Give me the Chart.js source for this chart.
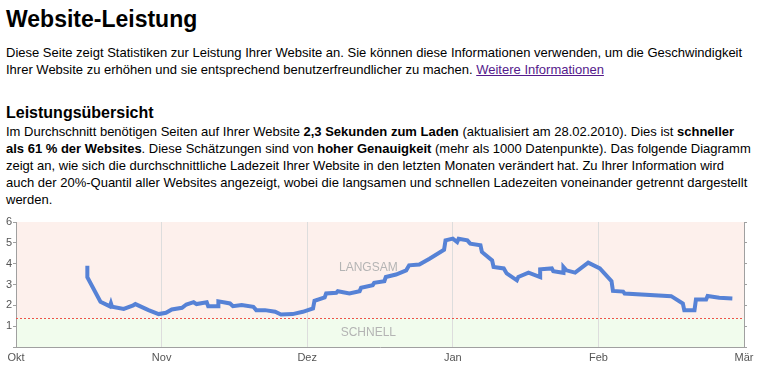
<!DOCTYPE html>
<html lang="de">
<head>
<meta charset="utf-8">
<script src="https://cdn.jsdelivr.net/npm/chart.js@4.4.1/dist/chart.umd.min.js"></script>
<style>
  html, body { margin: 0; padding: 0; background: #fff; width: 763px; height: 383px; overflow: hidden; }
  body { font-family: Arial, "Liberation Sans", sans-serif; color: #000; position: relative; }
  .t { position: absolute; left: 6px; white-space: nowrap; }
  #title { top: 8px; font-size: 23px; font-weight: bold; line-height: 23px; margin: 0; }
  #intro { top: 44px; font-size: 13px; line-height: 17px; }
  #h3 { top: 104px; font-size: 16px; font-weight: bold; line-height: 17px; }
  #summary { top: 123px; font-size: 13px; line-height: 17px; }
  a { color: #551a8b; text-decoration: underline; }
  #wrap { position: absolute; left: 0; top: 212px; width: 763px; height: 171px; }
</style>
</head>
<body>
<div class="t" id="title">Website-Leistung</div>
<div class="t" id="intro">Diese Seite zeigt Statistiken zur Leistung Ihrer Website an. Sie können diese Informationen verwenden, um die Geschwindigkeit<br>Ihrer Website zu erhöhen und sie entsprechend benutzerfreundlicher zu machen. <a href="#">Weitere Informationen</a></div>
<div class="t" id="h3">Leistungsübersicht</div>
<div class="t" id="summary">Im Durchschnitt benötigen Seiten auf Ihrer Website <b>2,3 Sekunden zum Laden</b> (aktualisiert am 28.02.2010). Dies ist <b>schneller</b><br><b>als 61 % der Websites</b>. Diese Schätzungen sind von <b>hoher Genauigkeit</b> (mehr als 1000 Datenpunkte). Das folgende Diagramm<br>zeigt an, wie sich die durchschnittliche Ladezeit Ihrer Website in den letzten Monaten verändert hat. Zu Ihrer Information wird<br>auch der 20%-Quantil aller Websites angezeigt, wobei die langsamen und schnellen Ladezeiten voneinander getrennt dargestellt<br>werden.</div>
<div id="wrap"><canvas id="c" width="763" height="171"></canvas></div>
<script>
// Month tick labels (x = months since 1 Oct)
const months = ['Okt', 'Nov', 'Dez', 'Jan', 'Feb', 'Mär'];
// Average load time, position in months since 1 Oct
const loadMonth = [0.49, 0.49, 0.58, 0.645, 0.652, 0.66, 0.74, 0.805, 0.82, 0.91,
  0.98, 1.03, 1.07, 1.14, 1.17, 1.22, 1.24, 1.31, 1.32, 1.39,
  1.39, 1.47, 1.49, 1.55, 1.63, 1.65, 1.71, 1.78, 1.82, 1.90,
  1.97, 2.04, 2.05, 2.12, 2.13, 2.20, 2.21, 2.29, 2.36, 2.37,
  2.45, 2.46, 2.53, 2.54, 2.61, 2.68, 2.70, 2.77, 2.84, 2.94,
  2.95, 3.00, 3.03, 3.04, 3.10, 3.12, 3.19, 3.20, 3.27, 3.28,
  3.35, 3.37, 3.44, 3.45, 3.52, 3.60, 3.60, 3.68, 3.69, 3.76,
  3.76, 3.78, 3.84, 3.93, 4.01, 4.09, 4.10, 4.17, 4.18, 4.50,
  4.58, 4.59, 4.66, 4.67, 4.74, 4.75, 4.83, 4.92];
// Average load time in seconds
const loadSeconds = [3.90, 3.35, 2.17, 1.95, 2.10, 1.93, 1.83, 2.00, 2.06, 1.77,
  1.58, 1.64, 1.80, 1.88, 2.04, 2.15, 2.06, 2.15, 1.96, 1.96,
  2.19, 2.09, 1.96, 2.02, 1.93, 1.77, 1.77, 1.69, 1.56, 1.58,
  1.69, 1.85, 2.22, 2.38, 2.57, 2.60, 2.68, 2.57, 2.68, 2.84,
  2.97, 3.08, 3.16, 3.36, 3.48, 3.68, 3.92, 3.96, 4.24, 4.67,
  5.12, 5.20, 5.04, 5.20, 5.12, 4.96, 4.88, 4.56, 4.16, 3.84,
  3.77, 3.53, 3.20, 3.36, 3.57, 3.36, 3.73, 3.77, 3.64, 3.56,
  3.84, 3.68, 3.57, 4.05, 3.77, 3.16, 2.69, 2.66, 2.57, 2.44,
  2.09, 1.77, 1.77, 2.28, 2.28, 2.45, 2.36, 2.33];
// 20% quantile of all websites (seconds)
const quantile20 = 1.38;
const zoneLabels = ['LANGSAM', 'SCHNELL'];
const yTickValues = [0, 1, 2, 3, 4, 5, 6];

const points = loadMonth.map((m, i) => ({ x: m, y: loadSeconds[i] }));

const zonePlugin = {
  id: 'zones',
  beforeDraw(chart) {
    const { ctx, chartArea: a, scales } = chart;
    const yq = scales.y.getPixelForValue(quantile20);
    ctx.save();
    ctx.fillStyle = '#fdf0ec';
    ctx.fillRect(a.left, a.top, a.right - a.left, yq - a.top);
    ctx.fillStyle = '#f1fced';
    ctx.fillRect(a.left, yq, a.right - a.left, a.bottom - yq);
    ctx.restore();
  },
  beforeDatasetsDraw(chart) {
    const { ctx, chartArea: a, scales } = chart;
    const yq = Math.round(scales.y.getPixelForValue(quantile20)) + 0.5;
    ctx.save();
    ctx.strokeStyle = '#f0504a';
    ctx.lineWidth = 1;
    ctx.setLineDash([2, 2]);
    ctx.beginPath();
    ctx.moveTo(a.left, yq);
    ctx.lineTo(a.right, yq);
    ctx.stroke();
    ctx.setLineDash([]);
    ctx.fillStyle = '#b4b4b4';
    ctx.font = '12px Arial, "Liberation Sans", sans-serif';
    ctx.textAlign = 'center';
    ctx.textBaseline = 'middle';
    const xl = scales.x.getPixelForValue(2.42);
    ctx.fillText(zoneLabels[0], xl, scales.y.getPixelForValue(3.82));
    ctx.fillText(zoneLabels[1], xl, scales.y.getPixelForValue(0.68));
    ctx.restore();
  }
};

new Chart(document.getElementById('c'), {
  type: 'line',
  data: {
    datasets: [{
      data: points,
      borderColor: '#5682d6',
      borderWidth: 4,
      tension: 0,
      pointRadius: 0,
      borderJoinStyle: 'miter',
      borderCapStyle: 'butt',
      fill: false
    }]
  },
  options: {
    responsive: false,
    animation: false,
    events: [],
    layout: { padding: { top: 10, left: 0, right: 0, bottom: 0 } },
    plugins: { legend: { display: false }, tooltip: { enabled: false } },
    scales: {
      x: {
        type: 'linear',
        min: 0,
        max: months.length - 1,
        afterFit(s) { s.height = 36; },
        afterBuildTicks(s) { s.ticks = months.map((_, i) => ({ value: i })); },
        ticks: {
          autoSkip: false,
          maxRotation: 0,
          padding: 4,
          color: '#555',
          font: { family: 'Arial, "Liberation Sans", sans-serif', size: 11 },
          callback: (v) => months[v]
        },
        grid: { color: '#dddddd', drawTicks: false, lineWidth: 1 },
        border: { color: '#a0a0a0' }
      },
      y: {
        position: 'left',
        min: 0,
        max: 6,
        afterFit(s) { s.width = 16; },
        afterBuildTicks(s) { s.ticks = yTickValues.map(v => ({ value: v })); },
        ticks: {
          padding: 1,
          color: '#555',
          font: { family: 'Arial, "Liberation Sans", sans-serif', size: 11 },
          callback: (v) => (v === 0 ? '' : String(v))
        },
        grid: { drawOnChartArea: false, tickLength: 3, color: '#a0a0a0' },
        border: { color: '#a0a0a0' }
      },
      y2: {
        position: 'right',
        min: 0,
        max: 6,
        afterFit(s) { s.width = 19; },
        afterBuildTicks(s) { s.ticks = yTickValues.map(v => ({ value: v })); },
        ticks: { display: false },
        grid: { drawOnChartArea: false, tickLength: 3, color: '#a0a0a0' },
        border: { color: '#a0a0a0' }
      }
    }
  },
  plugins: [zonePlugin]
});
</script>
</body>
</html>
